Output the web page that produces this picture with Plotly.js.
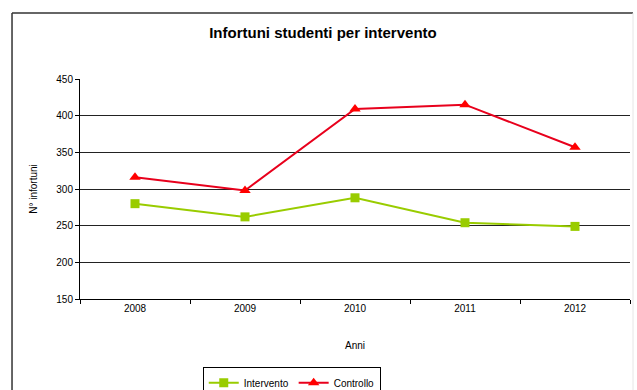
<!DOCTYPE html>
<html><head><meta charset="utf-8">
<script src="https://cdn.plot.ly/plotly-3.0.1.min.js"></script>
<style>html,body{margin:0;padding:0;background:#fff}#c{width:637px;height:390px}</style>
</head><body><div id="c"></div>
<script>
const years = ['2008','2009','2010','2011','2012'];
const intervento = [280, 262, 288, 254, 249];
const controllo = [316, 298, 409, 415, 357];
const yTicks = [150,200,250,300,350,400,450];

const F = 'Liberation Sans, Arial, sans-serif';
const traces = [
  {x: years, y: intervento, name: 'Intervento', type: 'scatter', mode: 'lines+markers',
   line: {color: '#99cc00', width: 2}, marker: {symbol: 'square', size: 9, color: '#99cc00'}},
  {x: years, y: controllo, name: 'Controllo', type: 'scatter', mode: 'lines+markers',
   line: {color: '#e8001c', width: 2}, marker: {symbol: 'triangle-up', size: 10, color: '#ff0000'}}
];
const layout = {
  width: 637, height: 390,
  margin: {l: 80, r: 7, t: 79, b: 91, autoexpand: false},
  paper_bgcolor: '#fff', plot_bgcolor: '#fff',
  font: {family: F, size: 10, color: '#000'},
  title: {text: '<b>Infortuni studenti per intervento</b>', x: 0.507, xanchor: 'center', y: 0.915, yanchor: 'middle',
          font: {family: 'Liberation Sans Narrow, ' + F, size: 15, color: '#000'}},
  xaxis: {type: 'category', range: [-0.5, 4.5], automargin: false, showline: true, linecolor: '#000', linewidth: 1,
          ticks: 'outside', ticklen: 4, tickcolor: '#000', tickson: 'boundaries', showgrid: false, zeroline: false,
          tickfont: {size: 10}, title: {text: 'Anni', font: {size: 10}, standoff: 28}},
  yaxis: {range: [150, 450], tickvals: yTicks, automargin: false, showline: true, linecolor: '#000', linewidth: 1,
          ticks: 'outside', ticklen: 4, tickcolor: '#000', showgrid: true, gridcolor: '#222', gridwidth: 1,
          zeroline: false, tickfont: {size: 10}, title: {text: 'N° infortuni', font: {size: 10}, standoff: 16}},
  legend: {orientation: 'h', x: 0.385, xanchor: 'center', y: -0.31, yanchor: 'top',
           bordercolor: '#000', borderwidth: 1, bgcolor: '#fff', font: {size: 10},
           itemwidth: 30, tracegroupgap: 0},
  showlegend: true,
  shapes: [
    {type: 'line', xref: 'paper', yref: 'paper', x0: -0.1236, x1: 1.0055, y0: 1.3, y1: 1.3,
     line: {color: '#333', width: 1.5}},
    {type: 'line', xref: 'paper', yref: 'paper', x0: -0.1236, x1: -0.1236, y0: 1.3, y1: -0.5,
     line: {color: '#333', width: 1.5}},
    {type: 'line', xref: 'paper', yref: 'paper', x0: 1.0055, x1: 1.0055, y0: 1.3, y1: -0.5,
     line: {color: '#e6e6e6', width: 1}}
  ]
};
Plotly.newPlot('c', traces, layout, {displayModeBar: false, staticPlot: true});
</script></body></html>
